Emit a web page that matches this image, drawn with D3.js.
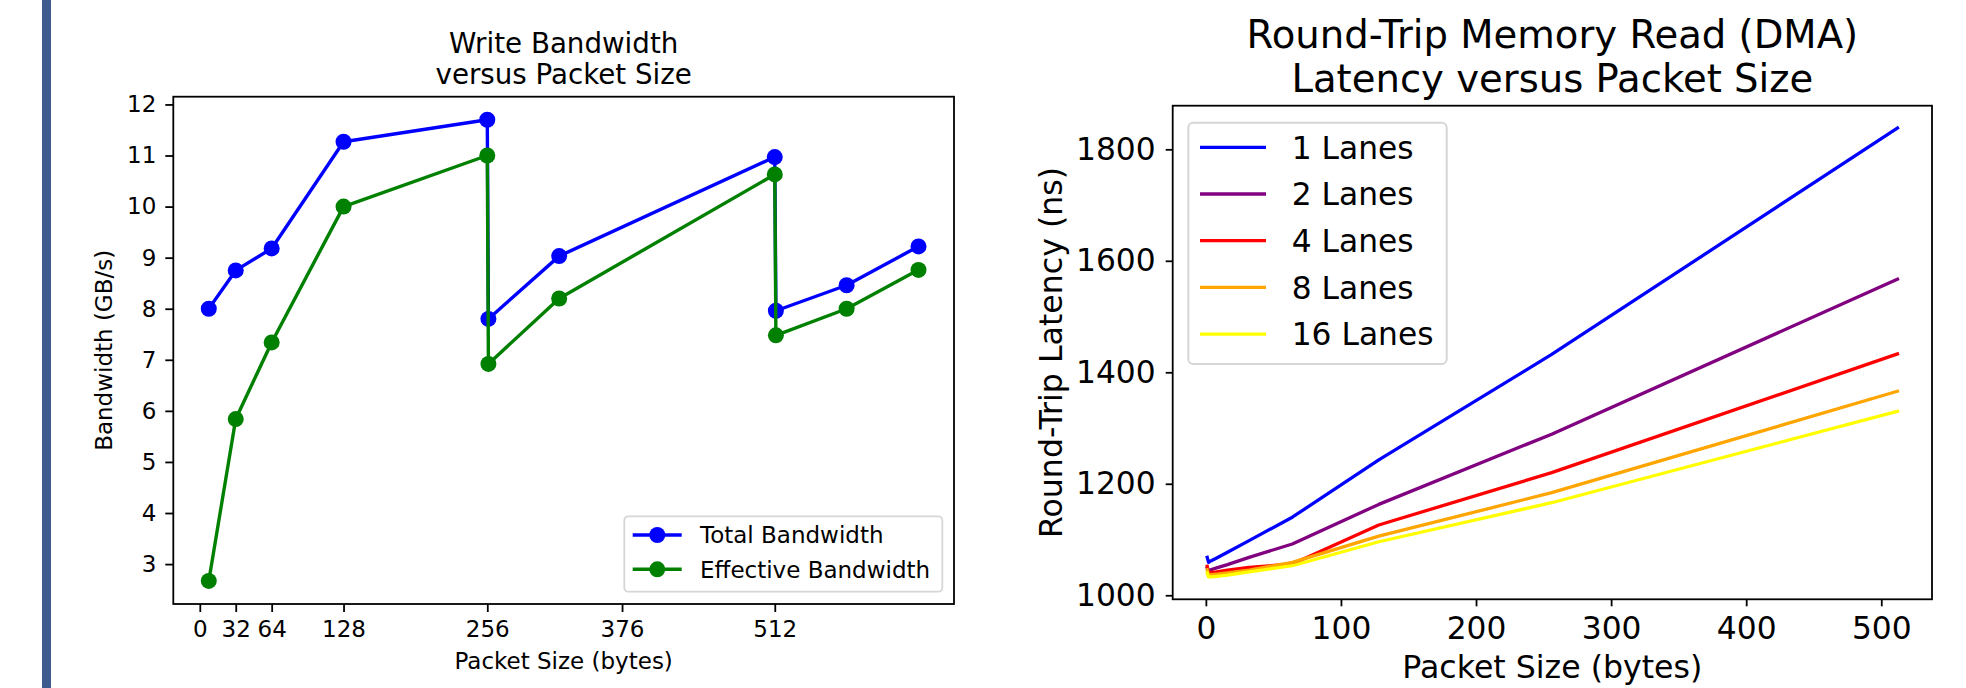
<!DOCTYPE html>
<html>
<head>
<meta charset="utf-8">
<script src="https://cdn.jsdelivr.net/npm/d3@7"></script>
<style>
  html, body { margin: 0; padding: 0; background: #ffffff; }
  svg { display: block; }
  text { font-family: "DejaVu Sans", sans-serif; fill: #000; }
</style>
</head>
<body>
<svg id="chart" width="1966" height="688"></svg>
<script>
// ---------- Left chart data ----------
const bwPacketSizes = [8, 32, 64, 128, 256, 257, 320, 512, 513, 576, 640];
const bwTotal       = [8.0, 8.75, 9.18, 11.27, 11.7, 7.80, 9.03, 10.97, 7.96, 8.46, 9.22];
const bwEffective   = [2.67, 5.84, 7.34, 10.0, 11.0, 6.92, 8.20, 10.63, 7.48, 8.0, 8.76];
const bwXTicks      = [0, 32, 64, 128, 256, 376, 512];
const bwYTicks      = [3, 4, 5, 6, 7, 8, 9, 10, 11, 12];
const bwSeriesNames = ["Total Bandwidth", "Effective Bandwidth"];

// ---------- Right chart data ----------
const latPacketSizes = [1, 2, 4, 8, 16, 32, 64, 128, 256, 512];
const lat1Lane   = [1068, 1059, 1062, 1067, 1077, 1098, 1140, 1243, 1432, 1838];
const lat2Lanes  = [1049, 1044, 1046, 1049, 1055, 1068, 1092, 1163, 1289, 1567];
const lat4Lanes  = [1052, 1040, 1041, 1042, 1045, 1050, 1056, 1126, 1220, 1433];
const lat8Lanes  = [1046, 1036, 1037, 1038, 1040, 1045, 1059, 1106, 1184, 1366];
const lat16Lanes = [1040, 1033, 1033, 1034, 1036, 1042, 1053, 1096, 1166, 1330];
const latSeriesNames = ["1 Lanes", "2 Lanes", "4 Lanes", "8 Lanes", "16 Lanes"];
const latXTicks = [0, 100, 200, 300, 400, 500];
const latYTicks = [1000, 1200, 1400, 1600, 1800];

const svg = d3.select("#chart");

// decorative left bar
svg.append("rect").attr("x", 42).attr("y", 0).attr("width", 9).attr("height", 688).attr("fill", "#3d5b8c");

function padDomain(vals) {
  const [a, b] = d3.extent(vals);
  const m = (b - a) * 0.05;
  return [a - m, b + m];
}

function drawAxes(g, x, y, xTicks, yTicks, fs, tickLen, pad) {
  const [x0, x1] = x.range();
  const [y0, y1] = y.range();
  const xa = d3.axisBottom(x).tickValues(xTicks).tickSize(tickLen).tickPadding(pad).tickFormat(d3.format("d"));
  const ya = d3.axisLeft(y).tickValues(yTicks).tickSize(tickLen).tickPadding(pad).tickFormat(d3.format("d"));
  const gx = g.append("g").attr("transform", `translate(0,${y0})`).call(xa);
  const gy = g.append("g").attr("transform", `translate(${x0},0)`).call(ya);
  [gx, gy].forEach(a => {
    a.select(".domain").remove();
    a.selectAll(".tick line").attr("stroke", "#000").attr("stroke-width", 1.8);
    a.selectAll(".tick text").attr("font-family", "DejaVu Sans").attr("font-size", fs).attr("fill", "#000");
  });
  g.append("rect").attr("x", x0).attr("y", y1).attr("width", x1 - x0).attr("height", y0 - y1)
    .attr("fill", "none").attr("stroke", "#000").attr("stroke-width", 1.8);
}

// ================= LEFT CHART =================
(function() {
  const L = 173.3, R = 954, T = 96.7, B = 604;
  const fs = 23;
  const x = d3.scaleLinear().domain(padDomain(bwPacketSizes)).range([L, R]);
  const y = d3.scaleLinear().domain(padDomain(bwTotal.concat(bwEffective))).range([B, T]);
  const g = svg.append("g");

  const series = [
    {name: bwSeriesNames[0], vals: bwTotal, color: "#0000ff"},
    {name: bwSeriesNames[1], vals: bwEffective, color: "#008000"}
  ];
  const line = d3.line().x((d, i) => x(bwPacketSizes[i])).y(d => y(d));
  series.forEach(s => {
    g.append("path").attr("d", line(s.vals)).attr("fill", "none").attr("stroke", s.color)
      .attr("stroke-width", 3.4).attr("stroke-linejoin", "round").attr("stroke-linecap", "square");
    g.selectAll(null).data(s.vals).enter().append("circle")
      .attr("cx", (d, i) => x(bwPacketSizes[i])).attr("cy", d => y(d)).attr("r", 8).attr("fill", s.color);
  });

  drawAxes(g, x, y, bwXTicks, bwYTicks, fs, 8, 9);

  // Title
  g.append("text").attr("x", (L + R) / 2).attr("y", 53).attr("text-anchor", "middle").attr("font-size", 27.7).text("Write Bandwidth");
  g.append("text").attr("x", (L + R) / 2).attr("y", 84).attr("text-anchor", "middle").attr("font-size", 27.7).text("versus Packet Size");
  // axis labels
  g.append("text").attr("x", (L + R) / 2).attr("y", 669).attr("text-anchor", "middle").attr("font-size", fs).text("Packet Size (bytes)");
  g.append("text").attr("transform", `translate(112,${(T + B) / 2}) rotate(-90)`).attr("text-anchor", "middle").attr("font-size", fs).text("Bandwidth (GB/s)");

  // Legend
  const lg = g.append("g");
  lg.append("rect").attr("x", 624.3).attr("y", 516.3).attr("width", 318).attr("height", 75.4).attr("rx", 4)
    .attr("fill", "#fff").attr("fill-opacity", 0.8).attr("stroke", "#d6d6d6").attr("stroke-width", 1.8);
  const ly = [535, 569.3];
  series.forEach((s, i) => {
    lg.append("line").attr("x1", 632.7).attr("x2", 681.7).attr("y1", ly[i]).attr("y2", ly[i]).attr("stroke", s.color).attr("stroke-width", 3.4);
    lg.append("circle").attr("cx", 657.3).attr("cy", ly[i]).attr("r", 8).attr("fill", s.color);
    lg.append("text").attr("x", 700).attr("y", ly[i]).attr("dy", "0.36em").attr("font-size", fs).text(s.name);
  });
})();

// ================= RIGHT CHART =================
(function() {
  const L = 1172.7, R = 1932, T = 105.7, B = 599.3;
  const fs = 31.3;
  const allVals = lat1Lane.concat(lat2Lanes, lat4Lanes, lat8Lanes, lat16Lanes);
  const x = d3.scaleLinear().domain(padDomain(latPacketSizes)).range([L, R]);
  const y = d3.scaleLinear().domain(padDomain(allVals)).range([B, T]);
  const g = svg.append("g");

  const series = [
    {name: latSeriesNames[0], vals: lat1Lane, color: "#0000ff"},
    {name: latSeriesNames[1], vals: lat2Lanes, color: "#800080"},
    {name: latSeriesNames[2], vals: lat4Lanes, color: "#ff0000"},
    {name: latSeriesNames[3], vals: lat8Lanes, color: "#ffa500"},
    {name: latSeriesNames[4], vals: lat16Lanes, color: "#ffff00"}
  ];
  const line = d3.line().x((d, i) => x(latPacketSizes[i])).y(d => y(d));
  series.forEach(s => {
    g.append("path").attr("d", line(s.vals)).attr("fill", "none").attr("stroke", s.color)
      .attr("stroke-width", 3.3).attr("stroke-linejoin", "round").attr("stroke-linecap", "square");
  });

  drawAxes(g, x, y, latXTicks, latYTicks, fs, 7, 10);

  g.append("text").attr("x", (L + R) / 2).attr("y", 48).attr("text-anchor", "middle").attr("font-size", 38.6).text("Round-Trip Memory Read (DMA)");
  g.append("text").attr("x", (L + R) / 2).attr("y", 92).attr("text-anchor", "middle").attr("font-size", 38.6).text("Latency versus Packet Size");
  g.append("text").attr("x", (L + R) / 2).attr("y", 678).attr("text-anchor", "middle").attr("font-size", 31.6).text("Packet Size (bytes)");
  g.append("text").attr("transform", `translate(1062,${(T + B) / 2}) rotate(-90)`).attr("text-anchor", "middle").attr("font-size", 31.6).text("Round-Trip Latency (ns)");

  const lg = g.append("g");
  lg.append("rect").attr("x", 1188.3).attr("y", 122.7).attr("width", 258.4).attr("height", 241.3).attr("rx", 5)
    .attr("fill", "#fff").attr("fill-opacity", 0.8).attr("stroke", "#d6d6d6").attr("stroke-width", 2);
  series.forEach((s, i) => {
    const yy = 147.3 + i * 46.7;
    lg.append("line").attr("x1", 1200).attr("x2", 1266).attr("y1", yy).attr("y2", yy).attr("stroke", s.color).attr("stroke-width", 3.3);
    lg.append("text").attr("x", 1291.7).attr("y", yy).attr("dy", "0.36em").attr("font-size", fs).text(s.name);
  });
})();
</script>
</body>
</html>
